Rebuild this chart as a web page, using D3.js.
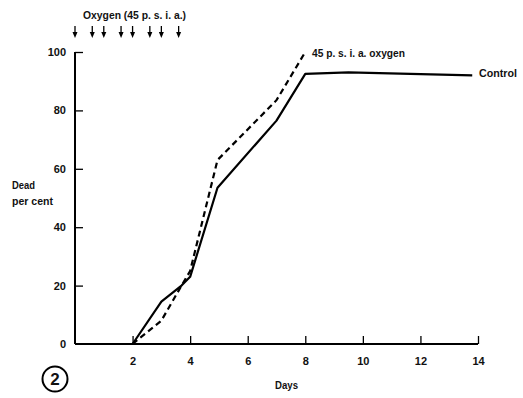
<!DOCTYPE html>
<html>
<head>
<meta charset="utf-8">
<script src="https://cdn.jsdelivr.net/npm/d3@7"></script>
<style>
  body { margin: 0; background: #fff; }
  svg { display: block; }
  text { font-family: "Liberation Sans", Arial, sans-serif; font-size: 11px; font-weight: bold; fill: #111; }
</style>
</head>
<body>
<svg class="chart"></svg>
<script>
// Data
var xTicks = [2, 4, 6, 8, 10, 12, 14];
var yTicks = [0, 20, 40, 60, 80, 100];
var oxygenDays = [0, 0.6, 1, 1.6, 2, 2.6, 3, 3.6];

var controlDays = [2, 3, 3.7, 4, 4.95, 7, 8, 9.5, 13.8];
var controlDead = [0, 14.5, 20, 23, 53.5, 76.5, 92.5, 93, 92];

var oxygenSeriesDays = [2, 3, 3.7, 4, 4.95, 7, 8];
var oxygenSeriesDead = [0, 8, 20, 25, 63, 83.5, 100];

var width = 523, height = 398;

var x = d3.scaleLinear().domain([0, 14]).range([75, 478]);
var y = d3.scaleLinear().domain([0, 100]).range([344, 52]);

var svg = d3.select(".chart")
    .attr("width", width)
    .attr("height", height);

// Axes (ticks point inward)
var xAxis = d3.axisBottom(x).tickValues(xTicks).tickSizeInner(-8).tickSizeOuter(0).tickPadding(13);
var yAxis = d3.axisLeft(y).tickValues(yTicks).tickSizeInner(-8).tickSizeOuter(0).tickPadding(9);

var gx = svg.append("g")
    .attr("transform", "translate(0," + y(0) + ")")
    .call(xAxis);
gx.select(".domain").attr("stroke-width", 2).attr("d", "M" + x(0) + ",0H" + x(14));
gx.selectAll(".tick line").attr("stroke-width", 1.3);
gx.selectAll("text").attr("font-size", null).attr("font-family", null);

var gy = svg.append("g")
    .attr("transform", "translate(" + x(0) + ",0)")
    .call(yAxis);
gy.select(".domain").attr("stroke-width", 2).attr("d", "M0," + y(0) + "V" + y(100));
gy.selectAll(".tick line").attr("stroke-width", 1.3);
gy.selectAll(".tick").filter(function(d) { return d === 0; }).select("line").remove();
gy.selectAll("text").attr("font-size", null).attr("font-family", null);

// Lines
var line = d3.line()
    .x(function(d) { return x(d[0]); })
    .y(function(d) { return y(d[1]); });

svg.append("path")
    .datum(d3.zip(controlDays, controlDead))
    .attr("fill", "none")
    .attr("stroke", "#000")
    .attr("stroke-width", 2.2)
    .attr("stroke-linejoin", "round")
    .attr("d", line);

svg.append("path")
    .datum(d3.zip(oxygenSeriesDays, oxygenSeriesDead))
    .attr("fill", "none")
    .attr("stroke", "#000")
    .attr("stroke-width", 2.2)
    .attr("stroke-dasharray", "6,4")
    .attr("d", line);

// helper: squeeze text to the width it has in the figure
function label(x0, y0, str, len) {
  var t = svg.append("text").attr("x", x0).attr("y", y0).text(str);
  if (len) t.attr("textLength", len).attr("lengthAdjust", "spacingAndGlyphs");
  return t;
}

// Series labels
label(312, 57, "45 p. s. i. a.  oxygen", 93);
label(479, 77, "Control", 38);

// Oxygen exposure arrows
label(83, 19, "Oxygen (45 p. s. i. a.)", 103);

var arrows = svg.selectAll(".arrow")
    .data(oxygenDays)
    .enter().append("g")
    .attr("class", "arrow")
    .attr("transform", function(d) { return "translate(" + x(d) + ",0)"; });
arrows.append("line")
    .attr("y1", 26).attr("y2", 35)
    .attr("stroke", "#000").attr("stroke-width", 1.3);
arrows.append("path")
    .attr("d", "M-2.5,32L0,38L2.5,32Z")
    .attr("fill", "#000");

// Axis titles
label(12, 189, "Dead", 23);
label(12, 205, "per cent", 41);
label(275, 389, "Days", 23);

// Figure number
svg.append("circle")
    .attr("cx", 55).attr("cy", 379).attr("r", 12.5)
    .attr("fill", "none").attr("stroke", "#000").attr("stroke-width", 2);
svg.append("text")
    .attr("x", 55).attr("y", 385)
    .attr("text-anchor", "middle")
    .style("font-size", "17px")
    .text("2");
</script>
</body>
</html>
